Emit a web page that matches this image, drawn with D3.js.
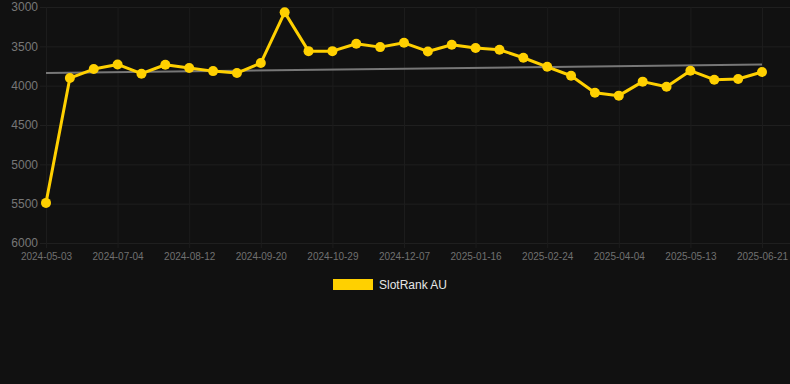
<!DOCTYPE html>
<html>
<head>
<meta charset="utf-8">
<script src="https://cdn.jsdelivr.net/npm/d3@7"></script>
<style>
  body { margin: 0; background: #111111; }
  svg { display: block; font-family: "Liberation Sans", Arial, sans-serif; }
</style>
</head>
<body>
<svg id="viz" width="790" height="384"></svg>
<script>
// categories: one date every ~13 days, labels shown every third
const dates = ['2024-05-03', '2024-06-08', '2024-06-21', '2024-07-04', '2024-07-17', '2024-07-30',
    '2024-08-12', '2024-08-25', '2024-09-07', '2024-09-20', '2024-10-03', '2024-10-16',
    '2024-10-29', '2024-11-11', '2024-11-24', '2024-12-07', '2024-12-20', '2025-01-03',
    '2025-01-16', '2025-01-29', '2025-02-11', '2025-02-24', '2025-03-09', '2025-03-22',
    '2025-04-04', '2025-04-17', '2025-04-30', '2025-05-13', '2025-05-26', '2025-06-08', '2025-06-21']
const ranks = [5490, 3903, 3789, 3730, 3848, 3734, 3776, 3815, 3840, 3713, 3068,
    3561, 3561, 3467, 3510, 3455, 3565, 3480, 3522, 3543, 3645, 3760,
    3874, 4089, 4127, 3949, 4013, 3810, 3924, 3916, 3827]
const trend = [3840, 3730]   // rank at first and last date
const yTicks = [3000, 3500, 4000, 4500, 5000, 5500, 6000]
const seriesName = "SlotRank AU"

const svg = d3.select("#viz");
const margin = { left: 46, right: 28, top: 7, bottom: 141 };
const width = 790, height = 384;

svg.append("rect").attr("width", width).attr("height", height).attr("fill", "#111111");

let x = d3.scalePoint()
    .domain(dates)
    .range([margin.left, width - margin.right]);

let y = d3.scaleLinear()
    .domain([3000, 6000])
    .range([margin.top, height - margin.bottom]);

let labelDates = dates.filter((d, i) => i % 3 == 0);

// horizontal grid + y labels
let yAxis = svg.append("g")
    .attr("transform", "translate(" + margin.left + ",0)")
    .call(d3.axisLeft(y).tickValues(yTicks).tickFormat(d3.format("d"))
        .tickSize(-(width - margin.left)).tickPadding(8));
yAxis.select(".domain").remove();
yAxis.selectAll("line").attr("stroke", "#1f1f1f").attr("x1", -6);
yAxis.selectAll("text").attr("fill", "#777777").style("font-size", "12px");

// vertical grid + x labels
let xAxis = svg.append("g")
    .attr("transform", "translate(0," + (height - margin.bottom) + ")")
    .call(d3.axisBottom(x).tickValues(labelDates)
        .tickSize(-(height - margin.bottom - margin.top)).tickPadding(10));
xAxis.select(".domain").remove();
xAxis.selectAll("line").attr("stroke", "#1c1c1c").attr("y1", 5);
xAxis.selectAll("text").attr("fill", "#707070").style("font-size", "10px");

// trend line
svg.append("line")
    .attr("x1", x(dates[0])).attr("y1", y(trend[0]))
    .attr("x2", x(dates[dates.length - 1])).attr("y2", y(trend[1]))
    .attr("stroke", "#777777")
    .attr("stroke-width", 2);

let data = dates.map((d, i) => ({ date: d, rank: ranks[i] }));

let line = d3.line()
    .x(d => x(d.date))
    .y(d => y(d.rank));

svg.append("path")
    .datum(data)
    .attr("d", line)
    .attr("fill", "none")
    .attr("stroke", "#ffd000")
    .attr("stroke-width", 3)
    .attr("stroke-linejoin", "round");

svg.selectAll(".dot")
    .data(data)
    .join("circle")
    .classed("dot", true)
    .attr("cx", d => x(d.date))
    .attr("cy", d => y(d.rank))
    .attr("r", 5)
    .attr("fill", "#ffd000");

// legend
let legend = svg.append("g").attr("transform", "translate(333,279)");
legend.append("rect")
    .attr("width", 40).attr("height", 11)
    .attr("fill", "#ffd000");
legend.append("text")
    .attr("x", 46).attr("y", 10)
    .attr("fill", "#e6e6e6")
    .style("font-size", "12px")
    .text(seriesName);
</script>
</body>
</html>
